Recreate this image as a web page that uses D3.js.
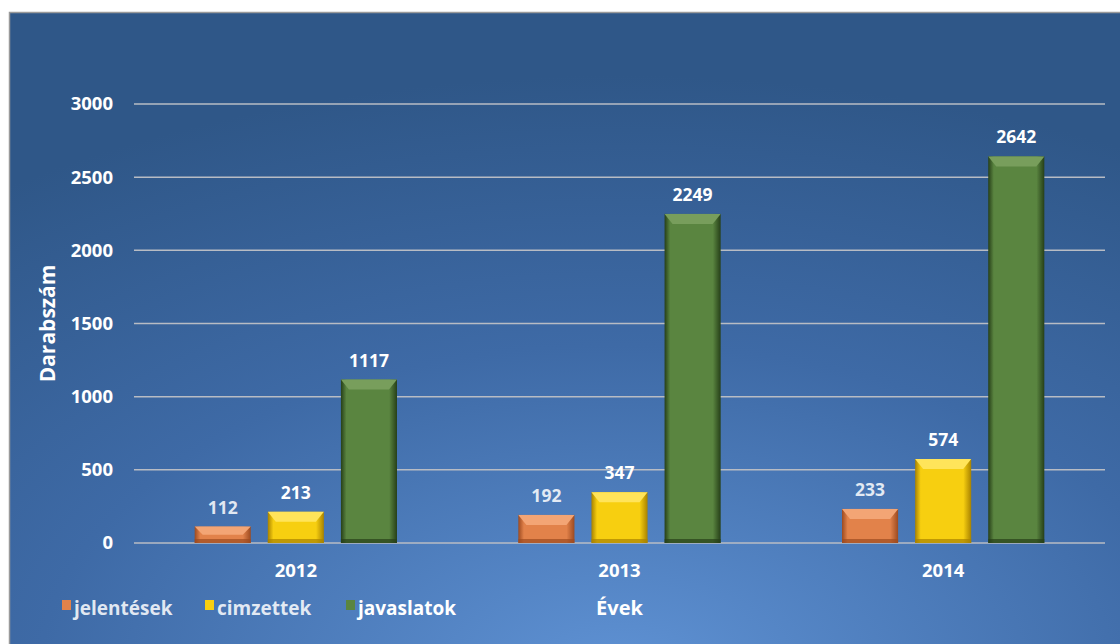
<!DOCTYPE html>
<html>
<head>
  <meta charset="utf-8">
  <title>Darabszám / Évek</title>
  <script src="https://cdn.jsdelivr.net/npm/d3@7/dist/d3.min.js"></script>
  <style>
    body { margin: 0; background: #fff; }
    text { font-family: "Open Sans", "Noto Sans", sans-serif; font-weight: bold; fill: #fff; }
  </style>
</head>
<body>
<svg id="chart" width="1120" height="644"></svg>
<script>
  // data
  var years = ['2012', '2013', '2014'];
  var seriesNames = ['jelentések', 'cimzettek', 'javaslatok'];
  var jelentesek = [112, 192, 233];
  var cimzettek = [213, 347, 574];
  var javaslatok = [1117, 2249, 2642];
  var yTicks = [0, 500, 1000, 1500, 2000, 2500, 3000];

  var series = [jelentesek, cimzettek, javaslatok];
  var colors = [
    { mid: '#e2824a', edge: '#9c4a20', top: '#f3a575' },
    { mid: '#f7cf10', edge: '#a88200', top: '#ffe45a' },
    { mid: '#5a8540', edge: '#263f18', top: '#789e5c' }
  ];

  var svg = d3.select('#chart'),
    width = +svg.attr('width'),
    height = +svg.attr('height');

  var defs = svg.append('defs');
  var bg = defs.append('radialGradient').attr('id', 'bg')
    .attr('cx', '0.55').attr('cy', '1.05').attr('r', '0.95');
  bg.append('stop').attr('offset', '0%').attr('stop-color', '#5f92d4');
  bg.append('stop').attr('offset', '55%').attr('stop-color', '#3e6aa6');
  bg.append('stop').attr('offset', '100%').attr('stop-color', '#2f5788');

  colors.forEach((c, i) => {
    var g = defs.append('linearGradient').attr('id', 'bar' + i)
      .attr('x1', 0).attr('x2', 1).attr('y1', 0).attr('y2', 0);
    g.append('stop').attr('offset', '0%').attr('stop-color', c.edge);
    g.append('stop').attr('offset', '10%').attr('stop-color', c.mid);
    g.append('stop').attr('offset', '86%').attr('stop-color', c.mid);
    g.append('stop').attr('offset', '100%').attr('stop-color', c.edge);
  });

  // panel
  svg.append('rect')
    .attr('x', 9).attr('y', 12).attr('width', width - 9).attr('height', height - 12)
    .attr('fill', 'url(#bg)');
  svg.append('path')
    .attr('d', 'M9.5,' + height + 'V12.5H' + width)
    .attr('fill', 'none').attr('stroke', '#9a9a9a').attr('stroke-width', 1.5);

  var margin = { left: 134, right: 15, top: 104, bottom: 101 };

  var x = d3.scaleBand().domain(years)
    .range([margin.left, width - margin.right]).paddingInner(0).paddingOuter(0);
  var x1 = d3.scaleBand().domain(seriesNames)
    .range([0, x.bandwidth()]).paddingInner(0.233).paddingOuter(0.83);
  var y = d3.scaleLinear().domain([0, 3000]).range([height - margin.bottom, margin.top]);

  // grid
  svg.append('g')
    .selectAll('line').data(yTicks).join('line')
    .attr('x1', margin.left).attr('x2', width - margin.right)
    .attr('y1', d => y(d)).attr('y2', d => y(d))
    .attr('stroke', '#b8bcc4').attr('stroke-width', 1.5);

  // y axis
  var yAxis = svg.append('g')
    .attr('transform', 'translate(' + (margin.left - 21) + ',0)')
    .call(d3.axisLeft(y).tickValues(yTicks).tickFormat(d3.format('d')).tickSize(0).tickPadding(0));
  yAxis.select('.domain').remove();
  yAxis.selectAll('text').style('font-size', '18.5px').attr('fill', '#fff');

  // x axis
  var xAxis = svg.append('g')
    .attr('transform', 'translate(0,' + y(0) + ')')
    .call(d3.axisBottom(x).tickSize(0).tickPadding(21));
  xAxis.select('.domain').remove();
  xAxis.selectAll('text').style('font-size', '18.5px').attr('fill', '#fff');

  // bars
  var groups = svg.append('g').selectAll('g').data(years).join('g')
    .attr('transform', d => 'translate(' + x(d) + ',0)');

  seriesNames.forEach((name, si) => {
    var w = x1.bandwidth();
    var bars = groups.append('g').datum((d, i) => ({ v: series[si][i] }));
    bars.append('rect')
      .attr('x', x1(name)).attr('width', w)
      .attr('y', d => y(d.v)).attr('height', d => y(0) - y(d.v))
      .attr('fill', 'url(#bar' + si + ')');
    // top bevel
    bars.append('path')
      .attr('d', d => {
        var x0 = x1(name), t = y(d.v), b = Math.min(10, (y(0) - t) / 2);
        return 'M' + x0 + ',' + t + 'H' + (x0 + w) + 'L' + (x0 + w - 8) + ',' + (t + b) +
          'H' + (x0 + 8) + 'Z';
      })
      .attr('fill', colors[si].top);
    // bottom bevel
    bars.append('rect')
      .attr('x', x1(name)).attr('width', w)
      .attr('y', y(0) - 4).attr('height', 4)
      .attr('fill', colors[si].edge).attr('opacity', 0.7);
    bars.append('text')
      .attr('x', x1(name) + w / 2)
      .attr('y', d => y(d.v) - 13)
      .attr('text-anchor', 'middle')
      .style('font-size', '17.5px')
      .attr('fill-opacity', si == 0 ? 0.85 : 1)
      .text(d => d.v);
  });

  // axis titles
  svg.append('text')
    .attr('transform', 'translate(55,' + (margin.top + y(0)) / 2 + ') rotate(-90)')
    .attr('text-anchor', 'middle')
    .style('font-size', '21px')
    .text('Darabszám');
  svg.append('text')
    .attr('x', x('2013') + x.bandwidth() / 2).attr('y', 615)
    .attr('text-anchor', 'middle')
    .style('font-size', '20px')
    .text('Évek');

  // legend
  var legendX = [62, 205, 346];
  var legend = svg.append('g').selectAll('g').data(seriesNames).join('g')
    .attr('transform', (d, i) => 'translate(' + legendX[i] + ',608)');
  legend.append('rect')
    .attr('x', 0).attr('y', -8).attr('width', 9).attr('height', 10)
    .attr('fill', (d, i) => colors[i].mid);
  legend.append('text')
    .attr('x', 12).attr('y', 7)
    .style('font-size', '19px')
    .attr('fill-opacity', (d, i) => i == 2 ? 1 : 0.85)
    .text(d => d);
</script>
</body>
</html>
